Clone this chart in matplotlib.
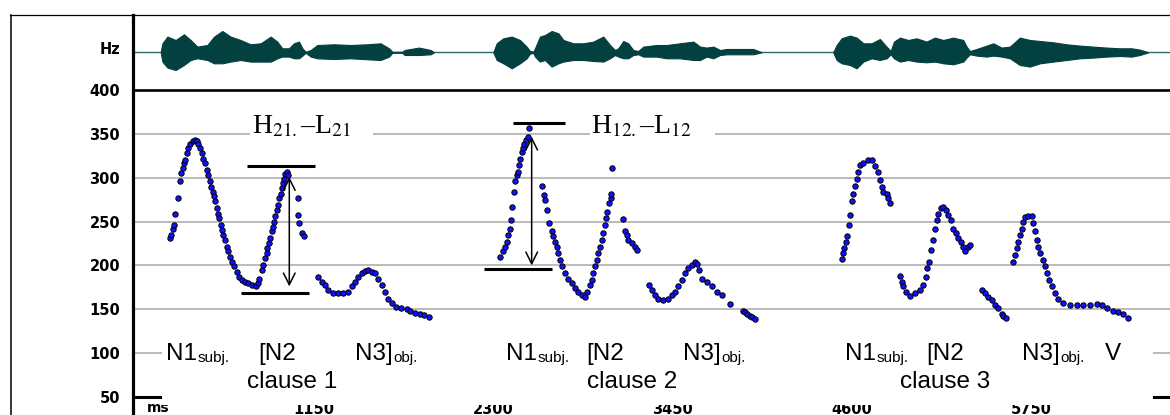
import matplotlib
matplotlib.use('Agg')
import matplotlib.pyplot as plt
from matplotlib.patches import Rectangle
from matplotlib.lines import Line2D

# ---------------- data ----------------
c1_t = [231, 235, 248, 256, 263, 284, 295, 299, 312, 320, 327, 338, 348, 359, 376, 391, 402, 412,
        423, 434, 444, 455, 466, 476, 487, 491, 504, 513, 519, 530, 540, 547, 555, 564, 572, 583,
        594, 604, 615, 626, 641, 658, 675, 690, 711, 733, 754, 782, 797, 803, 818, 829, 839, 850,
        854, 863, 871, 882, 889, 897, 906, 914, 923, 931, 940, 946, 953, 961, 968, 978, 989,
        1053, 1053, 1059, 1074, 1089,
        1181, 1202, 1224, 1245, 1277, 1309, 1341, 1373, 1395, 1416, 1437, 1459, 1480, 1501, 1523,
        1544, 1566, 1587, 1608, 1630, 1651, 1680, 1710, 1750, 1770, 1800, 1830, 1860, 1890]
c1_hz = [231, 235, 242, 246, 259, 277, 296, 305, 311, 317, 320, 328, 334, 339, 342, 343, 342, 339,
         334, 328, 322, 317, 309, 303, 296, 290, 284, 279, 273, 265, 259, 254, 246, 240, 235, 229,
         221, 216, 210, 204, 199, 193, 187, 183, 181, 180, 178, 177, 180, 185, 195, 201, 208, 214,
         220, 225, 231, 239, 244, 250, 256, 263, 269, 277, 282, 288, 294, 299, 304, 307, 303,
         277, 258, 248, 237, 233,
         187, 181, 178, 172, 169, 168, 169, 170, 176, 181, 187, 191, 194, 195, 193,
         191, 185, 178, 170, 162, 157, 153, 151, 150, 148, 146, 144, 143, 141]

c2_t = [2345, 2362, 2377, 2388, 2398, 2409, 2415, 2420, 2435, 2441, 2452, 2462, 2469, 2473, 2484,
        2490, 2499, 2512, 2527, 2533,
        2612, 2627, 2633, 2644, 2661, 2676, 2687, 2697, 2708, 2719, 2729, 2740, 2761, 2783, 2804,
        2826, 2847, 2868, 2890, 2905, 2922, 2932, 2943, 2954, 2964, 2975, 2986, 2996, 3007, 3018,
        3024, 3033, 3045, 3054, 3058, 3063,
        3135, 3146, 3157, 3167, 3189, 3210, 3225,
        3302, 3317, 3338, 3359, 3391, 3424, 3445, 3466, 3488, 3509, 3530, 3552, 3573, 3594, 3609,
        3622, 3637, 3669, 3701, 3733, 3765, 3819, 3900, 3915, 3930, 3947, 3962, 3979]
c2_hz = [210, 216, 221, 227, 235, 242, 252, 267, 284, 296, 303, 307, 315, 321, 329,
         334, 339, 343, 347, 357,
         291, 280, 275, 263, 248, 239, 233, 227, 221, 214, 206, 199, 191, 185, 180,
         174, 170, 166, 164, 170, 178, 183, 191, 199, 206, 214, 221, 229, 237, 246,
         254, 261, 271, 277, 282, 311,
         253, 239, 235, 229, 225, 221, 218,
         178, 172, 166, 162, 161, 162, 166, 170, 176, 183, 191, 197, 201, 204, 202,
         195, 185, 181, 176, 170, 166, 156, 148, 147, 145, 142, 141, 139]

c3_t = [4534, 4545, 4549, 4562, 4570, 4583, 4587, 4598, 4609, 4619, 4630, 4641, 4651, 4673, 4705,
        4726, 4747, 4769, 4779, 4790, 4801, 4822, 4833, 4843,
        4908, 4918, 4929, 4946, 4972, 5004, 5036, 5057, 5074, 5083, 5096, 5104, 5121, 5132, 5142,
        5153, 5168, 5185, 5202, 5217, 5232, 5249, 5266, 5281, 5296, 5313, 5324, 5345, 5356,
        5431, 5452, 5474, 5495, 5516, 5538, 5559, 5570, 5587,
        5634, 5644, 5655, 5666, 5676, 5687, 5698, 5708, 5730, 5751, 5762, 5773, 5783, 5794, 5805,
        5822, 5837, 5847, 5864, 5879, 5901, 5922, 5954, 5997, 6039, 6082, 6125, 6168, 6200, 6232,
        6275, 6306, 6338, 6370]
c3_hz = [207, 214, 220, 227, 233, 246, 258, 273, 282, 291, 299, 307, 315, 317, 320,
         320, 314, 307, 298, 290, 284, 282, 277, 271,
         188, 181, 176, 170, 165, 168, 172, 178, 187, 197, 204, 218, 229, 242, 252,
         259, 265, 267, 263, 258, 252, 242, 237, 231, 227, 221, 216, 221, 223,
         172, 168, 164, 161, 155, 151, 145, 142, 140,
         204, 212, 220, 227, 235, 242, 250, 255, 256, 256, 248, 239, 229, 221, 214,
         206, 199, 191, 183, 176, 168, 162, 157, 155, 155, 155, 155, 156, 155, 151,
         148, 147, 145, 140]

# waveform envelopes (time in ms, upper and lower amplitude, arbitrary units)
w1_t = [171, 182, 214, 267, 320, 363, 406, 470, 513, 566, 619, 683, 747, 812, 876, 918, 950, 993,
        1025, 1057, 1079, 1100, 1132, 1175, 1281, 1388, 1495, 1580, 1634, 1655, 1719, 1734, 1826,
        1901, 1922]
w1_up = [0, 9.0, 15.7, 12.3, 18.0, 12.3, 5.7, 7.3, 15.7, 21.3, 15.7, 12.3, 8.0, 9.0, 15.7, 10.7,
         4.0, 4.0, 9.0, 10.7, 4.0, 0.5, 2.3, 7.3, 8.0, 7.3, 8.0, 9.0, 4.0, 0.5, 0.5, 2.3, 4.7, 2.3, 0]
w1_lo = [0, 9.3, 15.3, 17.7, 12.7, 7.7, 6.0, 7.7, 11.0, 11.0, 9.3, 7.7, 9.3, 9.3, 9.3, 6.0,
         4.3, 4.3, 6.0, 6.0, 3.3, 0.5, 4.3, 6.0, 6.7, 6.0, 7.0, 7.7, 4.3, 0.5, 0.5, 2.7, 2.7, 2.0, 0]

w2_t = [2302, 2324, 2366, 2420, 2473, 2516, 2537, 2559, 2569, 2601, 2633, 2676, 2719, 2751, 2815,
        2879, 2943, 3007, 3050, 3082, 3103, 3135, 3167, 3199, 3231, 3263, 3349, 3413, 3498, 3584,
        3627, 3669, 3712, 3755, 3797, 3883, 3968, 4022]
w2_up = [0, 9.0, 14.0, 15.7, 12.3, 5.7, 1.3, 0.7, 4.0, 15.7, 17.3, 21.3, 19.0, 12.3, 9.0, 9.0,
         10.7, 15.7, 7.3, 2.3, 4.0, 11.3, 9.0, 2.3, 1.3, 5.7, 7.3, 7.3, 9.0, 10.7, 5.7, 4.7, 5.7,
         2.3, 3.3, 3.3, 3.3, 0]
w2_lo = [0, 7.7, 11.0, 16.0, 11.0, 6.0, 1.3, 0.7, 4.3, 9.3, 7.7, 14.3, 11.0, 9.3, 7.7, 7.7,
         8.7, 9.3, 6.0, 2.7, 4.3, 6.0, 6.0, 2.7, 2.0, 4.3, 4.3, 6.0, 6.0, 7.7, 7.7, 4.3, 6.0,
         2.7, 2.0, 2.0, 2.0, 0]

w3_t = [4480, 4502, 4534, 4587, 4630, 4673, 4726, 4779, 4822, 4848, 4869, 4908, 4961, 5014, 5078,
        5132, 5185, 5249, 5313, 5335, 5356, 5399, 5463, 5506, 5559, 5612, 5676, 5740, 5805, 5890,
        5975, 6061, 6146, 6232, 6317, 6392, 6445, 6499]
w3_up = [0, 7.3, 14.0, 16.7, 14.7, 9.0, 9.0, 13.3, 5.7, 1.3, 10.7, 14.7, 12.3, 14.0, 10.7, 14.7,
         12.3, 14.7, 12.3, 5.7, 1.3, 3.3, 6.7, 9.0, 4.7, 5.7, 14.7, 12.3, 11.3, 10.0, 8.0, 6.7,
         5.7, 4.7, 4.0, 4.0, 2.7, 0]
w3_lo = [0, 7.7, 11.0, 12.7, 16.0, 9.3, 6.0, 7.7, 6.0, 2.0, 6.0, 9.3, 7.7, 9.3, 10.0, 9.3,
         11.0, 12.0, 9.3, 5.3, 2.0, 3.3, 4.3, 3.3, 4.3, 6.0, 12.7, 14.3, 11.0, 9.3, 7.7, 6.0,
         5.3, 4.3, 3.7, 4.3, 2.7, 0]

# H-L excursion markers: (bar start, bar end, level Hz)
hl1_high = (722, 1160, 314)
hl1_low = (686, 1121, 169)
hl1_arrow = (995, 301, 176)
hl2_high = (2430, 2761, 362)
hl2_low = (2245, 2676, 196)
hl2_arrow = (2548, 347, 200)

y_ticks = [50, 100, 150, 200, 250, 300, 350, 400]
x_ticks = [1150, 2300, 3450, 4600, 5750]
grid_levels = [100, 150, 200, 250, 300, 350]

# ---------------- figure ----------------
W, H = 1170, 415
fig = plt.figure(figsize=(W / 100, H / 100), dpi=100)
fx = lambda p: p / W
fy = lambda p: 1 - p / H

tick_font = dict(family='DejaVu Sans', size=10.5, weight='bold')
sans = ['Liberation Sans', 'DejaVu Sans']

ax_w = fig.add_axes([fx(134), fy(89), 1 - fx(134), fy(15) - fy(89)])
ax_p = fig.add_axes([fx(134), fy(396.8), 1 - fx(134), fy(90.2) - fy(396.8)])

XMAX = 6638
# waveform panel
ax_w.set_xlim(0, XMAX)
ax_w.set_ylim(-36.7, 37.3)
for s in ax_w.spines.values():
    s.set_visible(False)
ax_w.set_xticks([])
ax_w.set_yticks([4])
ax_w.set_yticklabels(['Hz'], fontdict=tick_font)
ax_w.tick_params(axis='y', length=0, pad=10)
ax_w.axhline(0, color='#2d6b6b', lw=1.0, zorder=1)
wave_col = '#034040'
for t, up, lo in [(w1_t, w1_up, w1_lo), (w2_t, w2_up, w2_lo), (w3_t, w3_up, w3_lo)]:
    ax_w.fill_between(t, up, [-v for v in lo], color=wave_col, lw=0.8, zorder=2)

# pitch panel
ax_p.set_xlim(0, XMAX)
ax_p.set_ylim(50, 400)
ax_p.spines['left'].set_visible(False)
ax_p.spines['right'].set_visible(False)
ax_p.spines['top'].set_linewidth(1.9)
ax_p.spines['bottom'].set_linewidth(2.2)
ax_p.set_yticks(y_ticks)
ax_p.set_yticklabels([str(v) for v in y_ticks], fontdict=tick_font)
ax_p.set_xticks(x_ticks)
ax_p.set_xticklabels([str(v) for v in x_ticks], fontdict=tick_font)
ax_p.tick_params(axis='y', length=0, pad=10)
ax_p.tick_params(axis='x', length=0, pad=3.4)
ax_p.annotate('ms', xy=(0, 50), xycoords='data', xytext=(13, -4), textcoords='offset pixels',
              ha='left', va='top', fontfamily='DejaVu Sans', fontsize=10, fontweight='bold',
              annotation_clip=False)
for g in grid_levels:
    ax_p.axhline(g, color='#a8a8a8', lw=1.1, zorder=1)

for t, hz in [(c1_t, c1_hz), (c2_t, c2_hz), (c3_t, c3_hz)]:
    ax_p.scatter(t, hz, s=15, c='#1010ff', edgecolors='black', linewidths=0.7, zorder=4)

for (a, b, lvl) in [hl1_high, hl1_low, hl2_high, hl2_low]:
    ax_p.plot([a, b], [lvl, lvl], color='black', lw=2.2, solid_capstyle='butt', zorder=4)
for (t, hi, lo) in [hl1_arrow, hl2_arrow]:
    ax_p.annotate('', xy=(t, lo), xytext=(t, hi),
                  arrowprops=dict(arrowstyle='<->,head_length=0.6,head_width=0.3', lw=1.1,
                                  color='black', shrinkA=0, shrinkB=0, mutation_scale=14),
                  zorder=4)

# white label boxes
ax_p.add_patch(Rectangle((743, 338), 1531 - 743, 40, facecolor='white', edgecolor='none', zorder=3))
ax_p.add_patch(Rectangle((2922, 338), 3722 - 2922, 40, facecolor='white', edgecolor='none', zorder=3))
ax_p.text(756, 350.8, 'H$_{21.}$–L$_{21}$', fontfamily='Liberation Serif', math_fontfamily='stix',
          fontsize=20, va='baseline', ha='left', zorder=6)
ax_p.text(2931, 350.8, 'H$_{12.}$–L$_{12}$', fontfamily='Liberation Serif', math_fontfamily='stix',
          fontsize=20, va='baseline', ha='left', zorder=6)

# lower text box
ax_p.add_patch(Rectangle((179, 40.4), 6529 - 179, 131.9 - 40.4, facecolor='white', edgecolor='none',
                         zorder=5, clip_on=False))
big = dict(family=sans, size=17.5)
main_y, clause_y = 92.0, 60.0
labels_main = [(203, 'N1', 'subj.'), (794, '[N2', ''), (1416, 'N3]', 'obj.'),
               (2383, 'N1', 'subj.'), (2900, '[N2', ''), (3515, 'N3]', 'obj.'),
               (4555, 'N1', 'subj.'), (5079, '[N2', ''), (5687, 'N3]', 'obj.'), (6221, 'V', '')]
labels_clause = [(722, 'clause 1'), (2900, 'clause 2'), (4908, 'clause 3')]
for x, s, sub in labels_main:
    tm = ax_p.text(x, main_y, s, fontdict=big, va='baseline', ha='left', zorder=6)
    if sub:
        ax_p.annotate(sub, xy=(1, 0), xycoords=tm, xytext=(1, 0.5), textcoords='offset pixels',
                      va='bottom', ha='left', fontfamily=sans, fontsize=11, zorder=6)
for x, s in labels_clause:
    ax_p.text(x, clause_y, s, fontdict=big, va='baseline', ha='left', zorder=6, clip_on=False)

# frame lines
fig.add_artist(Line2D([fx(10), 1], [fy(15.5), fy(15.5)], color='black', lw=0.9))
fig.add_artist(Line2D([fx(10.8), fx(10.8)], [fy(15.5), 0], color='black', lw=1.1))
fig.add_artist(Line2D([fx(133.2), fx(133.2)], [fy(15), 0], color='black', lw=2.3))

fig.savefig('out.png', dpi=100)
